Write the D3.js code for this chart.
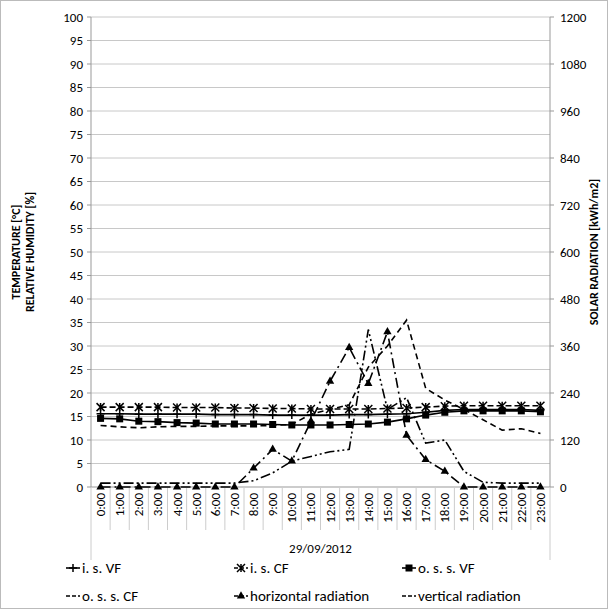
<!DOCTYPE html>
<html><head><meta charset="utf-8">
<script src="https://cdn.jsdelivr.net/npm/d3@7"></script>
<style>body{margin:0;background:#fff}text{font-family:Calibri,Carlito,"Liberation Sans",sans-serif}</style>
</head><body><svg id="c" width="608" height="609"></svg>
<script>
const hours = ["0:00","1:00","2:00","3:00","4:00","5:00","6:00","7:00","8:00","9:00","10:00","11:00","12:00","13:00","14:00","15:00","16:00","17:00","18:00","19:00","20:00","21:00","22:00","23:00"];
// temperature series (left axis)
const isVF  = [15.6,15.6,15.5,15.5,15.5,15.5,15.4,15.4,15.4,15.3,15.3,15.3,15.3,15.4,15.4,15.5,15.6,15.9,16.3,16.5,16.5,16.5,16.5,16.3];
const isCF  = [17,17,17,17,16.9,16.9,16.9,16.8,16.8,16.7,16.7,16.6,16.6,16.6,16.6,16.7,16.8,17,17.2,17.3,17.3,17.3,17.3,17.3];
const ossVF = [14.6,14.5,14,13.9,13.7,13.6,13.4,13.4,13.4,13.3,13.2,13.2,13.2,13.3,13.4,13.8,14.5,15.3,15.9,16.2,16.2,16.2,16.2,16];
const ossCF = [13.1,12.8,12.6,12.8,12.9,12.9,13,13,13,13.1,13.3,15.5,16.5,17.5,25.5,30,35.5,21,18.5,16.5,14.3,12.1,12.4,11.4];
// radiation series (right axis, kWh/m2)
const horRad = [0,0,0,0,0,0,0,0,48,96,66,168,270,356,264,396,132,70,40,0,0,0,0,0];
const verRad = [10,10,10,10,10,10,10,10,16,36,66,78,90,96,402,198,228,112,120,40,12,10,10,10];

const svg = d3.select("#c");
svg.append("rect").attr("x",0.5).attr("y",0.5).attr("width",607).attr("height",608).attr("fill","none").attr("stroke","#bbb");
const L=91,R=550,T=17,B=487;
const x = d3.scaleBand().domain(hours).range([L,R]);
const y = d3.scaleLinear().domain([0,100]).range([B,T]);
const y2 = d3.scaleLinear().domain([0,1200]).range([B,T]);
const cx = d => x(d)+x.bandwidth()/2;

// grid
svg.append("g").selectAll("line").data(d3.range(5,101,5)).join("line")
  .attr("x1",L).attr("x2",R).attr("y1",d=>y(d)).attr("y2",d=>y(d)).attr("stroke","#c8c8c8");
svg.append("line").attr("x1",L).attr("x2",L).attr("y1",T).attr("y2",B).attr("stroke","#999");
svg.append("line").attr("x1",R).attr("x2",R).attr("y1",T).attr("y2",B).attr("stroke","#999");
svg.append("line").attr("x1",L).attr("x2",R).attr("y1",B).attr("y2",B).attr("stroke","#999");
// category separators below axis
svg.append("g").selectAll("line").data(hours.concat(["end"])).join("line")
  .attr("x1",(d,i)=>L+i*x.bandwidth()).attr("x2",(d,i)=>L+i*x.bandwidth())
  .attr("y1",B).attr("y2",(d,i)=>(i==0||i==24)?560:530).attr("stroke","#ccc");

// left ticks
svg.append("g").selectAll("text").data(d3.range(0,101,5)).join("text")
  .attr("x",L-8).attr("y",d=>y(d)+4.5).attr("text-anchor","end").attr("font-size",13).text(d=>d);
svg.append("g").selectAll("line").data(d3.range(0,101,5)).join("line")
  .attr("x1",L-4).attr("x2",L).attr("y1",d=>y(d)).attr("y2",d=>y(d)).attr("stroke","#999");
// right ticks
svg.append("g").selectAll("text").data(d3.range(0,1201,120)).join("text")
  .attr("x",R+10).attr("y",d=>y2(d)+4.5).attr("font-size",13).text(d=>d);
svg.append("g").selectAll("line").data(d3.range(0,1201,120)).join("line")
  .attr("x1",R).attr("x2",R+4).attr("y1",d=>y2(d)).attr("y2",d=>y2(d)).attr("stroke","#999");
// x labels
svg.append("g").selectAll("text").data(hours).join("text")
  .attr("transform",d=>`translate(${cx(d)+4.5},${B+6}) rotate(-90)`)
  .attr("text-anchor","end").attr("font-size",13).text(d=>d);
svg.append("text").attr("x",(L+R)/2).attr("y",553).attr("text-anchor","middle").attr("font-size",13).text("29/09/2012");

// axis titles
svg.append("text").attr("transform","translate(20,252) rotate(-90)").attr("text-anchor","middle")
  .attr("font-size",12).attr("font-weight","bold").text("TEMPERATURE [°C]");
svg.append("text").attr("transform","translate(34,252) rotate(-90)").attr("text-anchor","middle")
  .attr("font-size",12).attr("font-weight","bold").text("RELATIVE HUMIDITY [%]");
svg.append("text").attr("transform","translate(598,252) rotate(-90)").attr("text-anchor","middle")
  .attr("font-size",12).attr("font-weight","bold").text("SOLAR RADIATION [kWh/m2]");

const series = [
  {name:"i. s.  VF", v:isVF, sc:y, dash:null, mk:"plus"},
  {name:"i. s.  CF", v:isCF, sc:y, dash:"6,3", mk:"star"},
  {name:"o. s. s.  VF", v:ossVF, sc:y, dash:null, mk:"square"},
  {name:"o. s. s.  CF", v:ossCF, sc:y, dash:"6,4", mk:null},
  {name:"horizontal radiation", v:horRad, sc:y2, dash:"10,4,2,4", mk:"tri"},
  {name:"vertical radiation", v:verRad, sc:y2, dash:"10,3,2,3,2,3", mk:null}
];
function marker(g,type,px,py){
  if(type=="plus"){g.append("path").attr("d",`M${px-4},${py}H${px+4}M${px},${py-4}V${py+4}`).attr("stroke","#000").attr("stroke-width",1.5);}
  if(type=="star"){g.append("path").attr("d",`M${px-4},${py-4}L${px+4},${py+4}M${px-4},${py+4}L${px+4},${py-4}M${px},${py-4}V${py+4}`).attr("stroke","#000").attr("stroke-width",1.5);}
  if(type=="square"){g.append("rect").attr("x",px-3.5).attr("y",py-3.5).attr("width",7).attr("height",7).attr("fill","#000");}
  if(type=="tri"){g.append("path").attr("d",d3.symbol(d3.symbolTriangle,30)()).attr("transform",`translate(${px},${py})`).attr("fill","#000");}
}
series.forEach(s=>{
  const line = d3.line().x((d,i)=>cx(hours[i])).y(d=>s.sc(d));
  svg.append("path").datum(s.v).attr("d",line).attr("fill","none").attr("stroke","#000")
    .attr("stroke-width",1.6).attr("stroke-dasharray",s.dash);
  const g = svg.append("g");
  if(s.mk) s.v.forEach((d,i)=>marker(g,s.mk,cx(hours[i]),s.sc(d)));
});

// legend
const lp = [[66,573],[234,573],[402,573],[66,601],[234,601],[402,601]];
series.forEach((s,i)=>{
  const [lx,ly]=lp[i];
  svg.append("line").attr("x1",lx).attr("x2",lx+14).attr("y1",ly-5).attr("y2",ly-5).attr("stroke","#000")
    .attr("stroke-width",1.6).attr("stroke-dasharray",s.dash?"4,2":null);
  if(s.mk) marker(svg,s.mk,lx+7,ly-5);
  svg.append("text").attr("x",lx+16).attr("y",ly).attr("font-size",15).text(s.name);
});
</script></body></html>
